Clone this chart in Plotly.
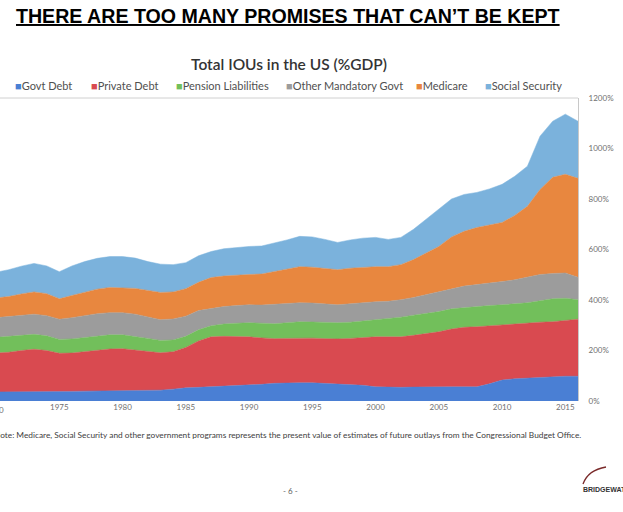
import plotly.graph_objects as go

years = list(range(1970, 2017))

govt_debt = [36, 36, 38, 38, 37, 36, 38, 39, 40, 40, 40, 40, 41, 43, 47, 52, 54, 56, 60, 62,
             64, 66, 70, 72, 72, 72, 70, 68, 66, 62, 56, 54, 54, 55, 56, 56, 56, 56, 56, 68,
             83, 88, 91, 93, 95, 98, 98]
private_debt = [154, 157, 162, 167, 163, 153, 152, 156, 162, 166, 167, 162, 155, 148, 148, 160, 184, 198, 196, 194,
                190, 184, 177, 176, 178, 177, 177, 178, 182, 190, 198, 200, 200, 205, 211, 218, 229, 236, 238, 230,
                219, 218, 219, 219, 219, 222, 226]
pension = [62, 63, 62, 59, 58, 55, 56, 57, 56, 56, 55, 54, 52, 49, 47, 44, 44, 44, 49, 52,
           56, 58, 59, 62, 64, 64, 64, 64, 64, 65, 66, 71, 78, 80, 80, 80, 80, 78, 79, 80,
           79, 79, 79, 85, 91, 87, 77]
other_mandatory = [78, 78, 78, 80, 80, 80, 84, 86, 88, 88, 88, 88, 86, 82, 83, 80, 76, 68, 69, 70,
                   71, 72, 77, 76, 75, 75, 73, 71, 73, 73, 73, 70, 69, 70, 75, 79, 80, 85, 88, 88,
                   92, 95, 100, 104, 100, 100, 89]
medicare = [78, 80, 84, 88, 87, 81, 88, 94, 97, 100, 99, 102, 104, 108, 107, 109, 112, 123, 121, 121,
            120, 123, 129, 136, 143, 142, 140, 139, 141, 140, 139, 137, 139, 150, 165, 179, 205, 217, 226, 232,
            234, 255, 282, 337, 381, 391, 392]
social_security = [102, 106, 110, 113, 110, 107, 117, 120, 122, 122, 123, 120, 114, 112, 108, 103, 105, 103, 108, 109,
                   111, 111, 113, 116, 120, 120, 116, 108, 112, 115, 116, 108, 108, 120, 133, 147, 150, 146, 139, 142,
                   151, 155, 159, 211, 222, 238, 226]

series_names = ["Govt Debt", "Private Debt", "Pension Liabilities", "Other Mandatory Govt", "Medicare", "Social Security"]
series_values = [govt_debt, private_debt, pension, other_mandatory, medicare, social_security]
series_colors = ["#4a7fd4", "#d94a50", "#72bf5b", "#9c9c9c", "#e8873f", "#7bb2dc"]

y_tick_vals = [0, 200, 400, 600, 800, 1000, 1200]
y_tick_text = ["0%", "200%", "400%", "600%", "800%", "1000%", "1200%"]
x_tick_vals = [1975, 1980, 1985, 1990, 1995, 2000, 2005, 2010, 2015]

W, H = 623, 512
L, R, T, B = 0, 45, 98, 111
PW, PH = W - L - R, H - T - B


def px(x):
    return (x - L) / PW


def py(y):
    return (H - B - y) / PH


fig = go.Figure()
for name, vals, col in zip(series_names, series_values, series_colors):
    fig.add_trace(go.Scatter(
        x=years, y=vals, name=name, mode="lines", stackgroup="one",
        line=dict(width=0.5, color=col), fillcolor=col, showlegend=False,
    ))

font_fam = "Lato, Open Sans, sans-serif"
annotations = []

# header
annotations.append(dict(
    text="<b><u>THERE ARE TOO MANY PROMISES THAT CAN’T BE KEPT</u></b>",
    xref="paper", yref="paper", x=px(288), y=py(16), xanchor="center", yanchor="middle",
    showarrow=False, font=dict(family="Liberation Sans, Arial, sans-serif", size=19.6, color="#000000"),
))

# legend built as text items
legend_x = [13, 89, 174, 284, 414, 483]
for lx, name, col in zip(legend_x, series_names, series_colors):
    annotations.append(dict(
        text=f"<span style='color:{col}'>■</span>{name}",
        xref="paper", yref="paper", x=px(lx), y=py(86), xanchor="left", yanchor="middle",
        showarrow=False, font=dict(family=font_fam, size=11, color="#505050"),
    ))

# partially visible 1970 tick label
annotations.append(dict(
    text="1970", xref="paper", yref="paper", x=px(-6), y=py(410), xanchor="center", yanchor="middle",
    showarrow=False, font=dict(family=font_fam, size=8, color="#707070"),
))

# note
annotations.append(dict(
    text="Note: Medicare, Social Security and other government programs represents the present value of estimates of future outlays from the Congressional Budget Office.",
    xref="paper", yref="paper", x=px(-8), y=py(435), xanchor="left", yanchor="middle",
    showarrow=False, font=dict(family=font_fam, size=8.3, color="#404040"),
))

# page number
annotations.append(dict(
    text="- 6 -", xref="paper", yref="paper", x=px(290), y=py(491), xanchor="center", yanchor="middle",
    showarrow=False, font=dict(family=font_fam, size=8, color="#606060"),
))

# logo text
annotations.append(dict(
    text="<b>BRIDGEWATER</b>", xref="paper", yref="paper", x=px(581), y=py(489), xanchor="left", yanchor="middle",
    showarrow=False, font=dict(family="Liberation Sans, Arial, sans-serif", size=7, color="#333333"),
))

shapes = [
    dict(type="line", xref="paper", yref="paper", x0=0, x1=1, y0=1, y1=1,
         line=dict(color="#d0d0d0", width=1)),
    dict(type="path", xref="paper", yref="paper",
         path=f"M {px(583)} {py(484)} Q {px(588)} {py(470)} {px(606)} {py(467)}",
         line=dict(color="#7a2a2a", width=1.3)),
]

fig.update_layout(
    width=W, height=H,
    margin=dict(l=L, r=R, t=T, b=B, pad=0),
    paper_bgcolor="white", plot_bgcolor="white",
    title=dict(text="Total IOUs in the US (%GDP)", x=289 / W, y=1 - 65 / H, xanchor="center", yanchor="middle",
               xref="container", yref="container",
               font=dict(family=font_fam, size=15.5, color="#333333", weight=600)),
    showlegend=False,
    annotations=annotations,
    shapes=shapes,
    xaxis=dict(range=[1970.31, 2016.0], tickvals=x_tick_vals, ticks="", showgrid=False, zeroline=False,
               showline=False, tickfont=dict(family=font_fam, size=8, color="#707070")),
    yaxis=dict(range=[0, 1200], side="right", tickvals=y_tick_vals, ticktext=y_tick_text, ticks="",
               ticklabelstandoff=8, showgrid=False, zeroline=False, showline=True, linecolor="#c8c8c8",
               linewidth=1, tickfont=dict(family=font_fam, size=8, color="#707070")),
)

fig.write_html("out.html", config={"displayModeBar": False},
               post_script="document.body.style.margin='0';document.body.style.padding='0';")
